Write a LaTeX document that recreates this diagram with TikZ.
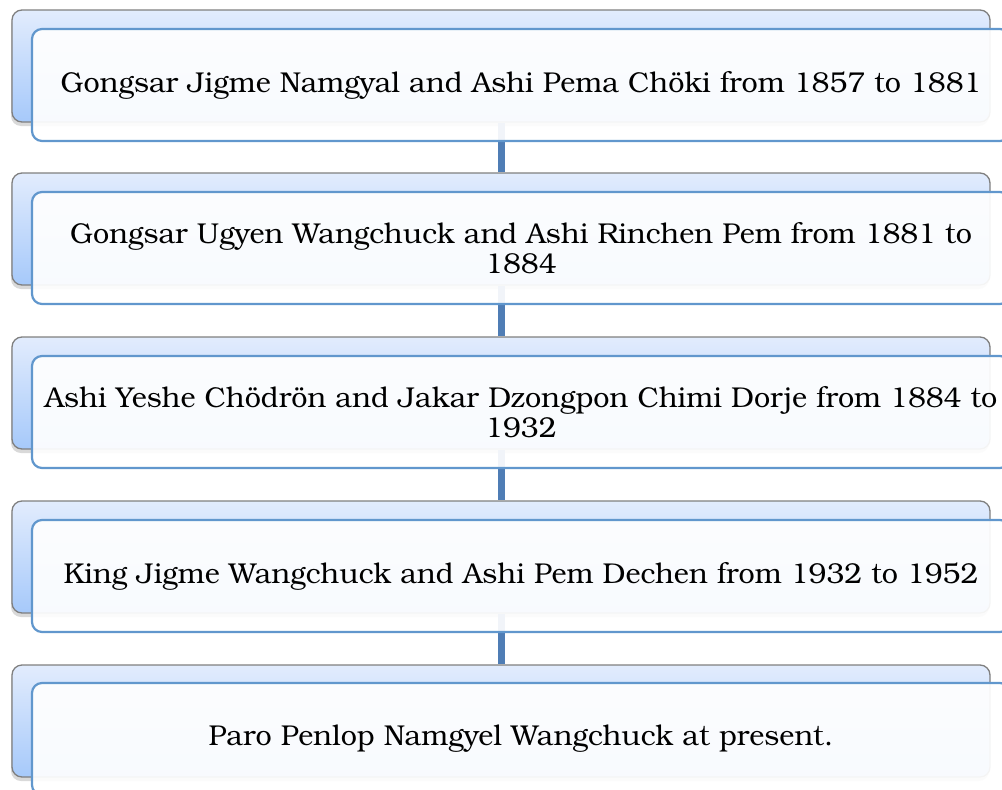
\documentclass[tikz,border=0pt]{standalone}
\usepackage{fontspec}
\setmainfont{TeX Gyre Bonum}
\usetikzlibrary{shadows}
\definecolor{backtop}{HTML}{E2ECFD}
\definecolor{backbot}{HTML}{A6C9FA}
\definecolor{backdraw}{HTML}{7F7F7F}
\definecolor{frontdraw}{HTML}{6197CD}
\definecolor{linkcol}{HTML}{4F7DB5}
\tikzset{
 backbox/.style={rectangle, rounded corners=10pt, draw=backdraw, line width=1.3pt,
   top color=backtop, bottom color=backbot, minimum width=978pt, minimum height=112pt,
   inner sep=0pt, drop shadow={shadow xshift=-1pt, shadow yshift=-4pt, opacity=0.3}},
 frontbox/.style={rectangle, rounded corners=10pt, draw=frontdraw, line width=2.2pt,
   fill=white, fill opacity=0.92, text opacity=1, minimum width=978pt, minimum height=112pt,
   align=center, font=\fontsize{28.7}{30}\selectfont, inner sep=0pt},
 link/.style={draw=linkcol, line width=7pt}
}
\begin{document}
\begin{tikzpicture}[x=1pt,y=-1pt]
\useasboundingbox (0,0) rectangle (1002,790);
\clip (0,0) rectangle (1002,790);
\node[backbox] (b1) at (501,66) {};
\node[backbox] (b2) at (501,229) {};
\node[backbox] (b3) at (501,393) {};
\node[backbox] (b4) at (501,557) {};
\node[backbox] (b5) at (501,721) {};
\draw[link] (b1.south) -- (b2.north);
\draw[link] (b2.south) -- (b3.north);
\draw[link] (b3.south) -- (b4.north);
\draw[link] (b4.south) -- (b5.north);
\node[frontbox] (f1) at (521,85) {Gongsar Jigme Namgyal and Ashi Pema Chöki from 1857 to 1881};
\node[frontbox] (f2) at (521,248) {Gongsar Ugyen Wangchuck and Ashi Rinchen Pem from 1881 to\\1884};
\node[frontbox] (f3) at (521,412) {Ashi Yeshe Chödrön and Jakar Dzongpon Chimi Dorje from 1884 to\\1932};
\node[frontbox] (f4) at (521,576) {King Jigme Wangchuck and Ashi Pem Dechen from 1932 to 1952};
\node[frontbox] (f5) at (521,739) {Paro Penlop Namgyel Wangchuck at present.};
\end{tikzpicture}
\end{document}
